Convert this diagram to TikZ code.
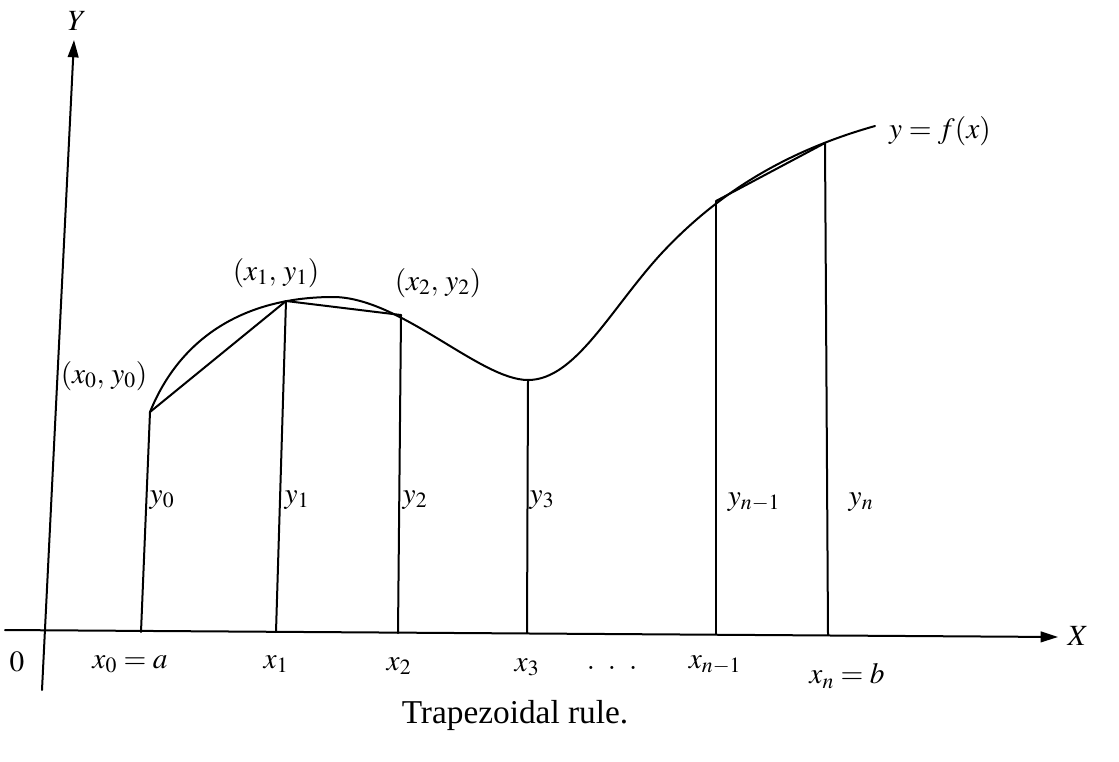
\documentclass[tikz,border=0pt]{standalone}
\usepackage{mathptmx}
\usepackage{fontspec}
\setmainfont{Liberation Serif}
\usetikzlibrary{arrows.meta}
\begin{document}
\begin{tikzpicture}[x=0.75pt,y=-0.75pt,
  ln/.style={line width=1.5pt,line cap=round,line join=round},
  ax/.style={ln,-{Triangle[length=13pt,width=8pt]}},
  lab/.style={inner sep=0pt,font=\fontsize{22}{26}\selectfont},
  capt/.style={inner sep=0pt,font=\fontsize{25}{30}\selectfont}]
\useasboundingbox (0,0) rectangle (1119,761);
% axes
\coordinate (O) at (42,690);
\coordinate (Ytop) at (74,40);
\coordinate (Xl) at (5,630);
\coordinate (Xr) at (1058,637);
\draw[ax] (O) -- (Ytop);
\draw[ax] (Xl) -- (Xr);
% points on axis
\coordinate (B0) at (141,632);
\coordinate (B1) at (276,632);
\coordinate (B2) at (398,633);
\coordinate (B3) at (527,633);
\coordinate (Bm) at (716,634);
\coordinate (Bn) at (828,635);
% points on curve
\coordinate (P0) at (150,412);
\coordinate (P1) at (286,301);
\coordinate (P2) at (401,315);
\coordinate (P3) at (528,380);
\coordinate (Pm) at (716,201);
\coordinate (Pn) at (825,143);
% curve
\draw[ln] (P0) .. controls (182,333) and (250,297) .. (333,297)
  .. controls (400,297) and (480,380) .. (P3)
  .. controls (575,380) and (610,310) .. (660,255)
  .. controls (720,190) and (790,150) .. (875,126);
% ordinates
\draw[ln] (B0) -- (P0);
\draw[ln] (B1) -- (P1);
\draw[ln] (B2) -- (P2);
\draw[ln] (B3) -- (P3);
\draw[ln] (Bm) -- (Pm);
\draw[ln] (Bn) -- (Pn);
% chords
\draw[ln] (P0) -- (P1) -- (P2);
\draw[ln] (Pm) -- (Pn);
% labels
\node[lab] (lY) at (77,21) {$Y$};
\node[lab] (lX) at (1078,636) {$X$};
\node[lab] (l0) at (17,662) {$0$};
\node[lab] (lp0) at (104,376) {$(x_0,\,y_0)$};
\node[lab] (lp1) at (276,273) {$(x_1,\,y_1)$};
\node[lab] (lp2) at (438,283) {$(x_2,\,y_2)$};
\node[lab] (lf) at (940,131) {$y=f(x)$};
\node[lab] (ly0) at (162,500) {$y_0$};
\node[lab] (ly1) at (297,500) {$y_1$};
\node[lab] (ly2) at (415,500) {$y_2$};
\node[lab] (ly3) at (542,500) {$y_3$};
\node[lab] (lym) at (754,502) {$y_{n-1}$};
\node[lab] (lyn) at (861,502) {$y_n$};
\node[lab] (lx0) at (130,664) {$x_0=a$};
\node[lab] (lx1) at (276,664) {$x_1$};
\node[lab] (lx2) at (399,666) {$x_2$};
\node[lab] (lx3) at (527,667) {$x_3$};
\node[lab] (ldots) at (612,668) {$.\;\;.\;\;.$};
\node[lab] (lxm) at (715,665) {$x_{n-1}$};
\node[lab] (lxn) at (847,676) {$x_n=b$};
\node[capt] (cap) at (515,715) {Trapezoidal rule.};
\end{tikzpicture}
\end{document}
